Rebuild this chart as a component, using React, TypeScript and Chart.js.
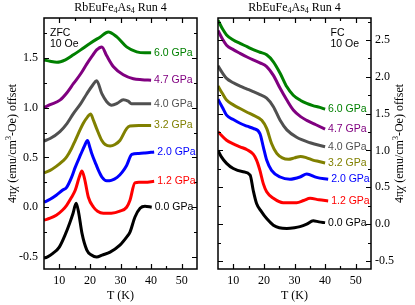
import { useEffect, useRef } from "react";
import { Chart, registerables } from "chart.js";
Chart.register(...registerables);

const pressures = ["0.0 GPa", "1.2 GPa", "2.0 GPa", "3.2 GPa", "4.0 GPa", "4.7 GPa", "6.0 GPa"];
const colors = ["#000000", "#ff0000", "#0000ff", "#808000", "#505050", "#800080", "#008000"];
const xTicks = [10, 20, 30, 40, 50];
const yTicksZfc = [-0.5, 0.0, 0.5, 1.0, 1.5];
const yTicksFc = [-0.5, 0.0, 0.5, 1.0, 1.5, 2.0, 2.5];

// ZFC, 10 Oe (left panel)
const zfc00T = [5, 6, 8, 10, 12, 13.5, 14.5, 15.5, 16.3, 17.4, 19, 20.5, 22.2, 24, 26.6, 29.8, 32, 33.1, 34.7, 36.4, 38, 40.2];
const zfc00V = [-0.51, -0.5, -0.46, -0.4, -0.27, -0.15, -0.06, 0.04, -0.05, -0.26, -0.43, -0.48, -0.5, -0.48, -0.45, -0.38, -0.3, -0.25, -0.1, -0.01, 0.01, 0.0];
const zfc12T = [5, 7, 9, 11, 12.4, 14, 15.2, 16.5, 17.4, 18.3, 19.5, 21.2, 22.5, 24.4, 27, 29.8, 32, 33.1, 34.7, 36, 38, 41];
const zfc12V = [-0.13, -0.11, -0.08, -0.03, 0.02, 0.1, 0.17, 0.3, 0.365, 0.28, 0.1, 0.0, -0.04, -0.06, -0.06, -0.04, 0.0, 0.07, 0.245, 0.25, 0.25, 0.26];
const zfc20T = [5, 7, 9, 11, 12.4, 14, 15.2, 17, 18.3, 19.2, 20, 20.6, 22, 22.8, 24, 25.5, 27, 28.9, 30.5, 32, 33.7, 36, 38, 41];
const zfc20V = [0.05, 0.08, 0.12, 0.17, 0.2, 0.3, 0.4, 0.53, 0.62, 0.67, 0.6, 0.54, 0.43, 0.37, 0.3, 0.265, 0.27, 0.3, 0.35, 0.42, 0.53, 0.54, 0.545, 0.555];
const zfc32T = [5, 7, 9, 11, 12.4, 14, 15.2, 17.8, 19.3, 20.2, 21.2, 22.2, 23.9, 25, 26.6, 28.2, 29.8, 32, 33.1, 36, 40];
const zfc32V = [0.345, 0.37, 0.41, 0.46, 0.505, 0.59, 0.67, 0.84, 0.91, 0.935, 0.87, 0.79, 0.67, 0.63, 0.615, 0.63, 0.67, 0.79, 0.815, 0.82, 0.82];
const zfc40T = [5, 7, 10.2, 12.5, 14.6, 17, 19, 21, 22.2, 23.9, 25.5, 27.1, 29, 30.9, 32.5, 33.6, 36, 40];
const zfc40V = [0.665, 0.69, 0.76, 0.84, 0.94, 1.04, 1.14, 1.23, 1.27, 1.14, 1.06, 1.025, 1.045, 1.08, 1.065, 1.04, 1.04, 1.04];
const zfc47T = [5, 7, 10.2, 12.5, 14.6, 17, 19, 21, 22.2, 23.9, 25.5, 27.7, 30.9, 34.2, 37, 40];
const zfc47V = [1.0, 1.03, 1.075, 1.15, 1.24, 1.34, 1.44, 1.53, 1.58, 1.61, 1.52, 1.41, 1.33, 1.29, 1.28, 1.275];
const zfc60T = [5, 7, 9.2, 12, 14.6, 17, 20, 23.4, 26, 28.8, 32, 35.3, 38, 40];
const zfc60V = [1.48, 1.465, 1.455, 1.48, 1.53, 1.58, 1.645, 1.71, 1.76, 1.71, 1.61, 1.56, 1.55, 1.55];

// FC, 10 Oe (right panel)
const fc00T = [5, 6, 7.8, 10, 13.2, 15.5, 16.5, 17.6, 19.2, 20.9, 23.1, 25, 27.5, 30, 31.8, 34, 36.1, 38, 40];
const fc00V = [1.0, 0.92, 0.825, 0.755, 0.71, 0.665, 0.46, 0.28, 0.17, 0.075, -0.015, -0.05, -0.06, -0.05, -0.035, 0.0, 0.045, 0.03, 0.02];
const fc12T = [5, 7.8, 10, 12.2, 14.5, 16.5, 17.6, 18.7, 19.8, 20.9, 23.1, 26.3, 30.7, 33, 35.1, 38, 41];
const fc12V = [1.255, 1.14, 1.09, 1.05, 1.01, 0.95, 0.87, 0.73, 0.55, 0.44, 0.35, 0.29, 0.29, 0.32, 0.35, 0.33, 0.315];
const fc20T = [5, 6.5, 7.8, 10, 12.2, 14.5, 16.5, 18.7, 19.8, 20.9, 22.5, 25.3, 28.5, 31.8, 34, 37.2, 41];
const fc20V = [1.695, 1.58, 1.48, 1.42, 1.37, 1.33, 1.3, 1.23, 1.05, 0.87, 0.73, 0.64, 0.61, 0.64, 0.68, 0.635, 0.61];
const fc32T = [5, 6.5, 7.8, 10, 12.2, 14.5, 16.5, 19.3, 20.9, 22.5, 24.2, 26, 28, 30, 32, 34, 36, 38, 40];
const fc32V = [1.875, 1.77, 1.685, 1.62, 1.57, 1.52, 1.48, 1.41, 1.3, 1.095, 0.96, 0.9, 0.88, 0.9, 0.92, 0.9, 0.87, 0.85, 0.83];
const fc40T = [5, 6.5, 7.8, 10, 12.2, 14.5, 16.5, 18.7, 20.9, 23.1, 25.3, 27.5, 30.7, 35.1, 40];
const fc40V = [2.15, 2.05, 1.98, 1.92, 1.875, 1.835, 1.8, 1.76, 1.71, 1.595, 1.41, 1.28, 1.18, 1.105, 1.05];
const fc47T = [5, 6.5, 7.8, 10, 12.2, 14.5, 16.5, 18.7, 20.9, 23.1, 25.3, 27.5, 29.6, 32, 34, 37, 40];
const fc47V = [2.63, 2.51, 2.43, 2.37, 2.32, 2.27, 2.23, 2.19, 2.14, 2.02, 1.845, 1.685, 1.55, 1.46, 1.41, 1.35, 1.29];
const fc60T = [5, 6.5, 7.8, 10, 12.2, 14.5, 16.5, 18.7, 20.9, 23.1, 25.3, 27.5, 29.6, 32, 34, 36, 38.3, 40];
const fc60V = [2.77, 2.65, 2.57, 2.5, 2.455, 2.41, 2.37, 2.335, 2.3, 2.205, 2.05, 1.865, 1.75, 1.68, 1.64, 1.61, 1.585, 1.56];

const zfcSeries = [[zfc00T, zfc00V], [zfc12T, zfc12V], [zfc20T, zfc20V], [zfc32T, zfc32V], [zfc40T, zfc40V], [zfc47T, zfc47V], [zfc60T, zfc60V]];
const fcSeries = [[fc00T, fc00V], [fc12T, fc12V], [fc20T, fc20V], [fc32T, fc32V], [fc40T, fc40V], [fc47T, fc47V], [fc60T, fc60V]];

const SERIF = "'Liberation Serif', 'Times New Roman', serif";
const SANS = "'Liberation Sans', Arial, sans-serif";

type Seg = { text: string; font: string; dy?: number };

function drawRich(ctx: CanvasRenderingContext2D, segs: Seg[], cx: number, cy: number, rotate: boolean) {
  ctx.save();
  ctx.translate(cx, cy);
  if (rotate) ctx.rotate(-Math.PI / 2);
  let total = 0;
  for (const s of segs) {
    ctx.font = s.font;
    total += ctx.measureText(s.text).width;
  }
  let x = -total / 2;
  ctx.textBaseline = "middle";
  ctx.textAlign = "left";
  ctx.fillStyle = "#000";
  for (const s of segs) {
    ctx.font = s.font;
    ctx.fillText(s.text, x, s.dy || 0);
    x += ctx.measureText(s.text).width;
  }
  ctx.restore();
}

type PanelOpts = {
  series: number[][][];
  side: "left" | "right";
  yMin: number;
  yMax: number;
  yTicks: number[];
  mode: string;
  modeX: number;
  yTitleX: number;
  padLeft: number;
  padRight: number;
};

function makeChart(canvas: HTMLCanvasElement, o: PanelOpts) {
  const decor = {
    id: "decor",
    afterDraw(chart: any) {
      const ctx: CanvasRenderingContext2D = chart.ctx;
      const a = chart.chartArea;
      const xs = chart.scales.x;
      const ys = chart.scales.y;
      ctx.save();
      ctx.strokeStyle = "#000";
      ctx.lineWidth = 1.5;
      ctx.strokeRect(a.left, a.top, a.right - a.left, a.bottom - a.top);
      ctx.lineWidth = 1.2;
      ctx.beginPath();
      for (let v = 10; v < 55; v += 5) {
        const px = Math.round(xs.getPixelForValue(v)) + 0.5;
        const len = v % 10 === 0 ? 5 : 3;
        ctx.moveTo(px, a.bottom);
        ctx.lineTo(px, a.bottom - len);
        ctx.moveTo(px, a.top);
        ctx.lineTo(px, a.top + len);
      }
      for (let v = -0.5; v < o.yMax; v += 0.25) {
        const py = Math.round(ys.getPixelForValue(v)) + 0.5;
        if (py < a.top + 2 || py > a.bottom - 2) continue;
        const major = Math.abs(Math.round(v * 2) - v * 2) < 1e-6;
        const len = major ? 5 : 3;
        ctx.moveTo(a.left, py);
        ctx.lineTo(a.left + len, py);
        ctx.moveTo(a.right, py);
        ctx.lineTo(a.right - len, py);
      }
      ctx.stroke();

      // pressure labels at curve ends
      ctx.font = "10.5px " + SANS;
      ctx.textAlign = "left";
      ctx.textBaseline = "middle";
      o.series.forEach((s, i) => {
        const t = s[0];
        const v = s[1];
        const px = xs.getPixelForValue(t[t.length - 1]) + 3;
        const py = ys.getPixelForValue(v[v.length - 1]);
        ctx.fillStyle = colors[i];
        ctx.fillText(pressures[i], px, py);
      });

      // mode label
      ctx.fillStyle = "#000";
      ctx.font = "10.5px " + SANS;
      ctx.fillText(o.mode, o.modeX, 33);
      ctx.fillText("10 Oe", o.modeX, 44);

      const cx = (a.left + a.right) / 2;
      const f12 = "12px " + SERIF;
      const f8 = "8px " + SERIF;
      drawRich(ctx, [
        { text: "RbEuFe", font: f12 },
        { text: "4", font: f8, dy: 3 },
        { text: "As", font: f12 },
        { text: "4", font: f8, dy: 3 },
        { text: " Run 4", font: f12 },
      ], cx, 8, false);
      drawRich(ctx, [{ text: "T (K)", font: f12 }], cx, 296, false);
      drawRich(ctx, [
        { text: "4π", font: f12 },
        { text: "χ", font: "italic 12px " + SERIF },
        { text: " (emu/cm", font: f12 },
        { text: "3", font: f8, dy: -4 },
        { text: "-Oe) offset", font: f12 },
      ], o.yTitleX, (a.top + a.bottom) / 2, true);
      ctx.restore();
    },
  };

  return new Chart(canvas, {
    type: "line",
    data: {
      datasets: o.series.map((s, i) => ({
        label: pressures[i],
        data: s[0].map((t, j) => ({ x: t, y: s[1][j] })),
        borderColor: colors[i],
        backgroundColor: colors[i],
        borderWidth: 3,
        pointRadius: 0,
        cubicInterpolationMode: "monotone" as const,
        fill: false,
      })),
    },
    options: {
      animation: false,
      responsive: false,
      devicePixelRatio: 1,
      layout: { padding: { top: 18, left: o.padLeft, right: o.padRight, bottom: 0 } },
      plugins: { legend: { display: false }, tooltip: { enabled: false }, title: { display: false } },
      scales: {
        x: {
          type: "linear",
          min: 5,
          max: 55,
          grid: { display: false, drawTicks: false },
          border: { display: false },
          afterBuildTicks: (sc: any) => {
            sc.ticks = xTicks.map((v) => ({ value: v }));
          },
          afterFit: (sc: any) => {
            sc.height = 36;
          },
          ticks: {
            padding: 5,
            color: "#000",
            font: { family: SERIF, size: 12 },
            maxRotation: 0,
            callback: (v: any) => String(v),
          },
        },
        y: {
          type: "linear",
          position: o.side,
          min: o.yMin,
          max: o.yMax,
          grid: { display: false, drawTicks: false },
          border: { display: false },
          afterBuildTicks: (sc: any) => {
            sc.ticks = o.yTicks.map((v) => ({ value: v }));
          },
          afterFit: (sc: any) => {
            sc.width = 44;
          },
          ticks: {
            padding: o.side === "left" ? 6 : 4,
            color: "#000",
            font: { family: SERIF, size: 12 },
            callback: (v: any) => Number(v).toFixed(1),
          },
        },
      },
    },
    plugins: [decor],
  } as any);
}

export default function App() {
  const leftRef = useRef<HTMLCanvasElement>(null);
  const rightRef = useRef<HTMLCanvasElement>(null);
  useEffect(() => {
    const c1 = makeChart(leftRef.current!, {
      series: zfcSeries,
      side: "left",
      yMin: -0.62,
      yMax: 1.9,
      yTicks: yTicksZfc,
      mode: "ZFC",
      modeX: 50,
      yTitleX: 13,
      padLeft: 0,
      padRight: 10,
    });
    const c2 = makeChart(rightRef.current!, {
      series: fcSeries,
      side: "right",
      yMin: -0.61,
      yMax: 2.8,
      yTicks: yTicksFc,
      mode: "FC",
      modeX: 123.5,
      yTitleX: 193,
      padLeft: 11,
      padRight: 0,
    });
    return () => {
      c1.destroy();
      c2.destroy();
    };
  }, []);
  return (
    <div style={{ position: "absolute", left: 0, top: 0, width: 415, height: 305, background: "#fff" }}>
      <canvas ref={leftRef} width={207} height={305} style={{ position: "absolute", left: 0, top: 0, width: 207, height: 305 }} />
      <canvas ref={rightRef} width={208} height={305} style={{ position: "absolute", left: 207, top: 0, width: 208, height: 305 }} />
    </div>
  );
}
